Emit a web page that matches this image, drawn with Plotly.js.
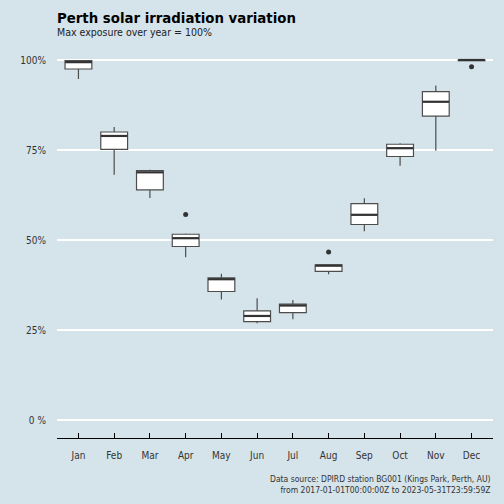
<!DOCTYPE html>
<html><head><meta charset="utf-8">
<script src="https://cdn.plot.ly/plotly-3.0.1.min.js"></script>
<style>html,body{margin:0;padding:0;background:#d5e3ea;}#chart{width:504px;height:504px;}</style>
</head><body><div id="chart"></div>
<script>
const months = ['Jan','Feb','Mar','Apr','May','Jun','Jul','Aug','Sep','Oct','Nov','Dec'];
const lowerWhisker = [94.7, 68.1, 61.7, 45.2, 33.5, 26.9, 28.0, 40.5, 52.4, 70.6, 74.8, 99.7];
const q1 = [97.5, 75.2, 63.9, 48.2, 35.7, 27.3, 29.8, 41.3, 54.3, 73.2, 84.4, 99.8];
const median = [99.4, 78.9, 68.8, 50.5, 39.1, 28.9, 31.8, 42.9, 57.0, 75.5, 88.4, 100];
const q3 = [99.8, 80.0, 69.3, 51.6, 39.5, 30.3, 32.2, 43.1, 60.1, 76.6, 91.2, 100];
const upperWhisker = [100, 81.4, 69.5, 51.8, 40.6, 33.8, 33.3, 43.1, 61.6, 76.9, 92.9, 100];
const outlierMonths = ['Apr','Aug','Dec'];
const outlierValues = [57.1, 46.7, 98.1];
const yTickVals = [0, 25, 50, 75, 100];
const yTickText = ['0 %', '25%', '50%', '75%', '100%'];

const FONT = '"DejaVu Sans Condensed", "Liberation Sans Narrow", "Liberation Sans", sans-serif';
const bg = '#d5e3ea';

const traces = [
  {
    type: 'box', x: months, q1: q1, median: median, q3: q3,
    lowerfence: lowerWhisker, upperfence: upperWhisker,
    width: 0.75,
    boxpoints: false, fillcolor: '#ffffff',
    line: {color: '#4d4d4d', width: 1.2}, whiskerwidth: 0,
    hoverinfo: 'skip', showlegend: false
  },
  {
    type: 'scatter', mode: 'markers', x: months, y: median,
    marker: {symbol: 'line-ew', size: 19, color: '#333', line: {color: '#333', width: 2.2}},
    hoverinfo: 'skip', showlegend: false
  },
  {
    type: 'scatter', mode: 'markers', x: outlierMonths, y: outlierValues,
    marker: {symbol: 'circle', size: 5, color: '#333'},
    hoverinfo: 'skip', showlegend: false
  }
];

const layout = {
  width: 504, height: 504,
  paper_bgcolor: bg, plot_bgcolor: bg,
  margin: {l: 57, r: 11, t: 42, b: 66},
  font: {family: FONT, color: '#333', size: 10},
  xaxis: {
    type: 'category', categoryarray: months, range: [-0.6, 11.6],
    showgrid: false, zeroline: false,
    showline: true, linecolor: '#000', linewidth: 1,
    ticks: 'inside', ticklen: 5, tickcolor: '#000', tickwidth: 1,
    tickfont: {family: FONT, size: 10, color: '#333'},
    ticklabelstandoff: 8,
    fixedrange: true
  },
  yaxis: {
    range: [-5, 105],
    tickvals: yTickVals, ticktext: yTickText,
    showgrid: true, gridcolor: '#ffffff', gridwidth: 1.6,
    zeroline: false, showline: false, ticks: '',
    tickfont: {family: FONT, size: 10, color: '#333'},
    ticklabelstandoff: 10,
    fixedrange: true
  },
  annotations: [
    {text: '<b>Perth solar irradiation variation</b>', xref: 'paper', yref: 'paper',
     x: 0, y: 1, xanchor: 'left', yanchor: 'bottom', xshift: -2, yshift: 14, showarrow: false,
     font: {family: FONT, size: 14.8, color: '#000'}},
    {text: 'Max exposure over year = 100%', xref: 'paper', yref: 'paper',
     x: 0, y: 1, xanchor: 'left', yanchor: 'bottom', xshift: -2, yshift: 2, showarrow: false,
     font: {family: FONT, size: 10.5, color: '#222'}},
    {text: 'Data source: DPIRD station BG001 (Kings Park, Perth, AU)<br>from 2017-01-01T00:00:00Z to 2023-05-31T23:59:59Z',
     xref: 'paper', yref: 'paper', x: 1, y: 0, xanchor: 'right', yanchor: 'top', align: 'right',
     yshift: -34, showarrow: false,
     font: {family: FONT, size: 8.5, color: '#333'}}
  ]
};

Plotly.newPlot('chart', traces, layout, {displayModeBar: false, staticPlot: true});
</script></body></html>
